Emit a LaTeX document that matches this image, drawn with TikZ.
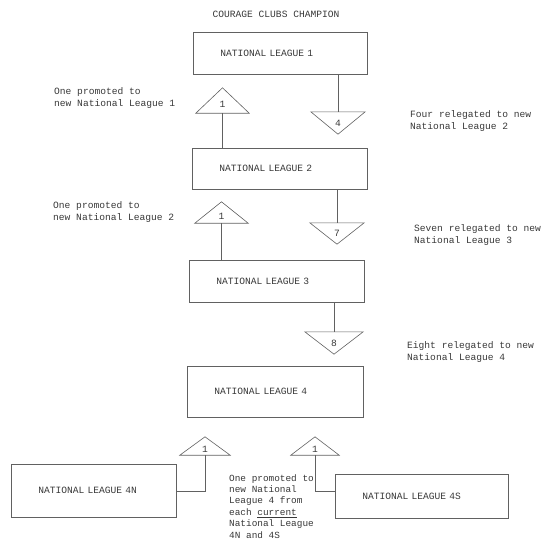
\documentclass[tikz,border=0pt]{standalone}
\usepackage{fontspec}
\setmonofont{Liberation Mono}
\usetikzlibrary{calc}
\begin{document}
\begin{tikzpicture}[x=1pt,y=-1pt,
  every node/.style={font=\ttfamily\fontsize{9.6}{12.5}\selectfont, text=black!78},
  ln/.style={draw=black!62, line width=0.6pt},
  league/.style={ln, rectangle, inner xsep=27pt, inner ysep=0pt, align=left, anchor=north west},
  tri/.style={rectangle, inner sep=0pt, minimum height=#1},
  uptri/.style={tri=#1, text height=13pt, text depth=0pt},
  dntri/.style={tri=#1},
  note/.style={anchor=north west, inner sep=0pt, align=left}
]
\useasboundingbox (0,0) rectangle (552,544);

% title
\node (title) at (276,14) {COURAGE CLUBS CHAMPION};

% league boxes
\node[league, text width=120pt, minimum height=42pt] (nl1) at (193,32) {NATIONAL LEAGUE 1};
\node[league, text width=121pt, minimum height=41pt] (nl2) at (192,148) {NATIONAL LEAGUE 2};
\node[league, text width=121pt, minimum height=42pt] (nl3) at (189,260) {NATIONAL LEAGUE 3};
\node[league, text width=122pt, minimum height=51pt] (nl4) at (187,366) {NATIONAL LEAGUE 4};
\node[league, text width=111pt, minimum height=53pt] (nl4n) at (11,464) {NATIONAL LEAGUE 4N};
\node[league, text width=119pt, minimum height=44pt] (nl4s) at (335,474) {NATIONAL LEAGUE 4S};

% triangles
\node[uptri=25pt, minimum width=53pt] (ta) at (222.5,100.5) {1};
\draw[ln] (ta.north) -- (ta.south east) -- (ta.south west) -- cycle;
\node[dntri=22pt, minimum width=54pt] (t4) at (338,123) {4};
\draw[ln] (t4.south) -- (t4.north east) -- (t4.north west) -- cycle;
\node[uptri=21pt, minimum width=53pt] (tb) at (221.5,212.5) {1};
\draw[ln] (tb.north) -- (tb.south east) -- (tb.south west) -- cycle;
\node[dntri=21pt, minimum width=54pt] (t7) at (337,233.5) {7};
\draw[ln] (t7.south) -- (t7.north east) -- (t7.north west) -- cycle;
\node[dntri=22pt, minimum width=58pt] (t8) at (334,343) {8};
\draw[ln] (t8.south) -- (t8.north east) -- (t8.north west) -- cycle;
\node[uptri=18pt, minimum width=50pt] (tc) at (205,446) {1};
\draw[ln] (tc.north) -- (tc.south east) -- (tc.south west) -- cycle;
\node[uptri=18pt, minimum width=48pt] (td) at (315,446) {1};
\draw[ln] (td.north) -- (td.south east) -- (td.south west) -- cycle;

% connectors
\draw[ln] (nl1.south -| t4.north) -- (t4.north);
\draw[ln] (ta.south) -- (ta.south |- nl2.north);
\draw[ln] (nl2.south -| t7.north) -- (t7.north);
\draw[ln] (tb.south) -- (tb.south |- nl3.north);
\draw[ln] (nl3.south -| t8.north) -- (t8.north);
\draw[ln] (tc.south) |- (nl4n.east);
\draw[ln] (td.south) |- (nl4s.west |- nl4n.east);

% notes
\node[note] (n1) at (54,87) {One promoted to\\new National League 1};
\node[note] (n2) at (410,110) {Four relegated to new\\National League 2};
\node[note] (n3) at (53,201) {One promoted to\\new National League 2};
\node[note] (n4) at (414,224) {Seven relegated to new\\National League 3};
\node[note] (n5) at (407,341) {Eight relegated to new\\National League 4};
\node[note, font=\ttfamily\fontsize{9.4}{11.4}\selectfont] (n6) at (229,474) {One promoted to\\new National\\League 4 from\\each \underline{current}\\National League\\4N and 4S};
\end{tikzpicture}
\end{document}
